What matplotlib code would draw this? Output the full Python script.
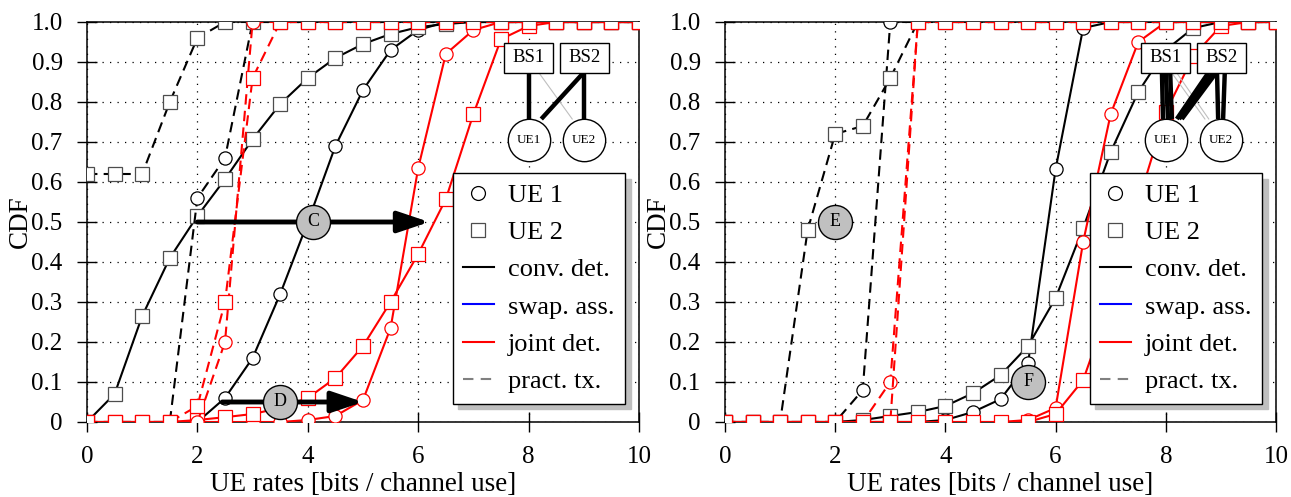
import matplotlib
matplotlib.use("Agg")
import matplotlib.pyplot as plt
from matplotlib.lines import Line2D
from matplotlib.patches import Rectangle

plt.rcParams['font.family'] = ['Liberation Serif', 'DejaVu Serif']

# ---------------- data ----------------
rates = [0.0, 0.5, 1.0, 1.5, 2.0, 2.5, 3.0, 3.5, 4.0, 4.5, 5.0,
         5.5, 6.0, 6.5, 7.0, 7.5, 8.0, 8.5, 9.0, 9.5, 10.0]

xticks = [0, 2, 4, 6, 8, 10]
xtick_labels = ['0', '2', '4', '6', '8', '10']
yticks = [0, 0.1, 0.2, 0.3, 0.4, 0.5, 0.6, 0.7, 0.8, 0.9, 1.0]
ytick_labels = ['0', '0.1', '0.2', '0.3', '0.4', '0.5', '0.6', '0.7', '0.8', '0.9', '1.0']

# left panel
left_conv_ue1 = [0, 0, 0, 0, 0, 0.06, 0.16, 0.32, 0.50, 0.69, 0.83, 0.93, 0.98, 1, 1, 1, 1, 1, 1, 1, 1]
left_conv_ue2 = [0, 0.07, 0.265, 0.41, 0.515, 0.607, 0.707, 0.795, 0.86, 0.91, 0.945, 0.97, 0.987, 0.995, 1, 1, 1, 1, 1, 1, 1]
left_pract_conv_ue1 = [0, 0, 0, 0, 0.56, 0.66, 1, 1, 1, 1, 1, 1, 1, 1, 1, 1, 1, 1, 1, 1, 1]
left_pract_conv_ue2 = [0.62, 0.62, 0.62, 0.80, 0.96, 1, 1, 1, 1, 1, 1, 1, 1, 1, 1, 1, 1, 1, 1, 1, 1]
left_joint_ue1 = [0, 0, 0, 0, 0, 0, 0, 0, 0.005, 0.015, 0.055, 0.235, 0.635, 0.92, 0.98, 1, 1, 1, 1, 1, 1]
left_joint_ue2 = [0, 0, 0, 0, 0.005, 0.012, 0.02, 0.035, 0.06, 0.11, 0.19, 0.30, 0.42, 0.557, 0.77, 0.957, 0.99, 1, 1, 1, 1]
left_pract_joint_ue1 = [0, 0, 0, 0, 0, 0.20, 1, 1, 1, 1, 1, 1, 1, 1, 1, 1, 1, 1, 1, 1, 1]
left_pract_joint_ue2 = [0, 0, 0, 0, 0.04, 0.30, 0.86, 1, 1, 1, 1, 1, 1, 1, 1, 1, 1, 1, 1, 1, 1]

# right panel
right_conv_ue1 = [0, 0, 0, 0, 0, 0, 0, 0, 0.005, 0.025, 0.057, 0.147, 0.632, 0.985, 1, 1, 1, 1, 1, 1, 1]
right_conv_ue2 = [0, 0, 0, 0, 0, 0.005, 0.015, 0.025, 0.04, 0.072, 0.117, 0.19, 0.31, 0.485, 0.675, 0.825, 0.93, 0.985, 1, 1, 1]
right_pract_conv_ue1 = [0, 0, 0, 0, 0, 0.08, 1, 1, 1, 1, 1, 1, 1, 1, 1, 1, 1, 1, 1, 1, 1]
right_pract_conv_ue2 = [0, 0, 0, 0.48, 0.72, 0.74, 0.86, 1, 1, 1, 1, 1, 1, 1, 1, 1, 1, 1, 1, 1, 1]
right_joint_ue1 = [0, 0, 0, 0, 0, 0, 0, 0, 0, 0, 0, 0.005, 0.035, 0.45, 0.77, 0.95, 1, 1, 1, 1, 1]
right_joint_ue2 = [0, 0, 0, 0, 0, 0, 0, 0, 0, 0, 0, 0, 0.02, 0.105, 0.30, 0.55, 0.775, 0.915, 0.99, 1, 1]
right_pract_joint_ue1 = [0, 0, 0, 0, 0, 0, 0.10, 1, 1, 1, 1, 1, 1, 1, 1, 1, 1, 1, 1, 1, 1]
right_pract_joint_ue2 = [0, 0, 0, 0, 0, 0, 0, 1, 1, 1, 1, 1, 1, 1, 1, 1, 1, 1, 1, 1, 1]

legend_labels = ['UE 1', 'UE 2', 'conv. det.', 'swap. ass.', 'joint det.', 'pract. tx.']

# annotations: (label, x, y)
left_marks = [('C', 4.1, 0.5), ('D', 3.5, 0.05)]
left_arrows = [((2.0, 0.5), (6.2, 0.5)), ((2.45, 0.05), (5.0, 0.05))]
right_marks = [('E', 2.0, 0.5), ('F', 5.5, 0.1)]

# ---------------- figure ----------------
W, H = 1291, 497
fig = plt.figure(figsize=(W / 100, H / 100), dpi=100)
axL = fig.add_axes([87 / W, 75 / H, 552 / W, 400 / H])
axR = fig.add_axes([725 / W, 75 / H, 551 / W, 400 / H])

DASH = (0, (5, 3))
LW = 1.5


def draw_curves(ax, conv1, conv2, pc1, pc2, j1, j2, pj1, pj2):
    specs = [
        (conv1, 'black', '-', 'o', 'black', 3),
        (conv2, 'black', '-', 's', '0.3', 3),
        (pc1, 'black', DASH, 'o', 'black', 3),
        (pc2, 'black', DASH, 's', '0.3', 3),
        (j1, 'red', '-', 'o', 'red', 4),
        (j2, 'red', '-', 's', 'red', 4),
        (pj1, 'red', DASH, 'o', 'red', 4),
        (pj2, 'red', DASH, 's', 'red', 4),
    ]
    for y, c, ls, m, mec, z in specs:
        ax.plot(rates, y, color=c, ls=ls, lw=LW, marker=m, ms=9.5,
                mfc='white', mec=mec, mew=0.9, zorder=z)


def style(ax):
    ax.set_xlim(0, 10)
    ax.set_ylim(0, 1)
    ax.set_xticks(xticks)
    ax.set_xticklabels(xtick_labels)
    ax.set_yticks(yticks)
    ax.set_yticklabels(ytick_labels)
    ax.tick_params(direction='inout', length=15, width=1.0, pad=10,
                   labelsize=18, colors='black')
    ax.grid(True, ls=(0, (1, 5)), color='black', lw=0.9)
    ax.set_axisbelow(True)
    for s in ax.spines.values():
        s.set_linewidth(1.1)
    ax.set_xlabel('UE rates [bits / channel use]', fontsize=19.5, labelpad=3)
    ax.set_ylabel('CDF', fontsize=19.5, labelpad=-1)


def legend(ax):
    handles = [
        Line2D([], [], ls='none', marker='o', ms=10, mfc='white', mec='black', mew=0.9),
        Line2D([], [], ls='none', marker='s', ms=10, mfc='white', mec='0.3', mew=0.9),
        Line2D([], [], color='black', lw=LW),
        Line2D([], [], color='blue', lw=LW),
        Line2D([], [], color='red', lw=LW),
        Line2D([], [], color='0.5', lw=LW, ls=(0, (5, 3.5))),
    ]
    leg = ax.legend(handles, legend_labels, loc='upper right',
                    bbox_to_anchor=(0.975, 0.6225), borderaxespad=0,
                    fontsize=19, frameon=True, fancybox=False,
                    edgecolor='black', framealpha=1, handlelength=1.15,
                    handletextpad=0.55, labelspacing=0.52, borderpad=0.4,
                    shadow={'ox': 4, 'oy': -4, 'color': '0.75', 'alpha': 1})
    leg.get_frame().set_linewidth(1.0)
    leg.set_zorder(10)


def marks(ax, items):
    for lab, x, y in items:
        ax.plot([x], [y], marker='o', ms=24.5, mfc='#c0c0c0', mec='black',
                mew=1.0, ls='none', zorder=9, clip_on=False)
        ax.text(x, y, lab, ha='center', va='center', fontsize=13, zorder=9.5)


def arrows(ax, items):
    for start, end in items:
        ax.annotate('', xy=end, xytext=start, zorder=8,
                    arrowprops=dict(arrowstyle='-|>,head_length=0.95,head_width=0.32',
                                    lw=3.5, color='black', shrinkA=0, shrinkB=0,
                                    mutation_scale=20))


def network(ax, links_thick, links_thin):
    # base stations
    for lab, cx in (('BS1', 8.0), ('BS2', 9.01)):
        ax.add_patch(Rectangle((cx - 0.445, 0.8725), 0.89, 0.075, fc='white',
                               ec='black', lw=1.0, zorder=12))
        ax.text(cx, 0.91, lab, ha='center', va='center', fontsize=13.5, zorder=13)
    for (x0, x1) in links_thin:
        ax.plot([x0, x1], [0.8725, 0.7575], color='0.75', lw=0.8, zorder=11)
    for (x0, x1) in links_thick:
        ax.plot([x0, x1], [0.8725, 0.7575], color='black', lw=3.2, zorder=11,
                solid_capstyle='butt')
    for lab, cx in (('UE1', 8.0), ('UE2', 9.0)):
        ax.plot([cx], [0.705], marker='o', ms=30.5, mfc='white', mec='black',
                mew=1.0, ls='none', zorder=12)
        ax.text(cx, 0.705, lab, ha='center', va='center', fontsize=9.5, zorder=13)


draw_curves(axL, left_conv_ue1, left_conv_ue2, left_pract_conv_ue1, left_pract_conv_ue2,
            left_joint_ue1, left_joint_ue2, left_pract_joint_ue1, left_pract_joint_ue2)
draw_curves(axR, right_conv_ue1, right_conv_ue2, right_pract_conv_ue1, right_pract_conv_ue2,
            right_joint_ue1, right_joint_ue2, right_pract_joint_ue1, right_pract_joint_ue2)

for ax in (axL, axR):
    style(ax)
    legend(ax)

arrows(axL, left_arrows)
marks(axL, left_marks)
marks(axR, right_marks)

network(axL, links_thick=[(8.0, 8.0), (8.99, 8.23), (9.0, 9.0)],
        links_thin=[(8.19, 8.79)])
network(axR, links_thick=[(7.93, 7.95), (8.0, 8.04), (8.08, 8.11),
                          (8.77, 8.2), (8.86, 8.24), (8.91, 8.29),
                          (8.93, 8.95), (9.07, 9.04)],
        links_thin=[(8.11, 8.71), (8.2, 8.78)])

fig.savefig('out.png', dpi=100)
